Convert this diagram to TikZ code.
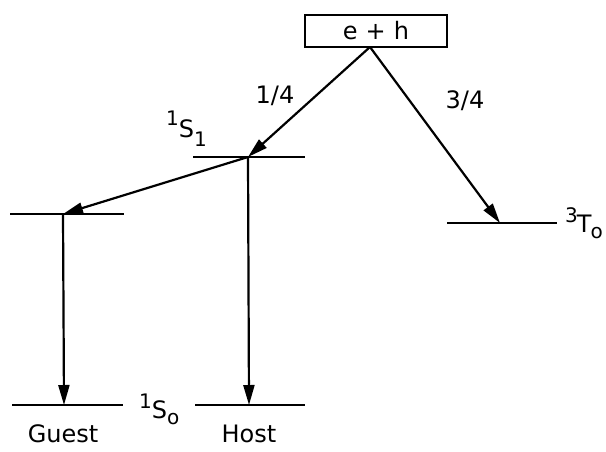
\documentclass[tikz,border=0pt]{standalone}
\usepackage{fontspec}
\setmainfont{DejaVu Sans}
\usetikzlibrary{arrows.meta}
\newcommand{\bigf}{\fontsize{24}{24}\selectfont}
\newcommand{\smf}{\fontsize{20}{20}\selectfont}
\begin{document}
\begin{tikzpicture}[x=1pt,y=-1pt,
  lvl/.style={line width=2.4pt},
  conn/.style={line width=2.2pt,-{Triangle[length=20pt,width=11pt]}},
  lab/.style={font=\bigf, inner sep=0pt},
  every node/.style={inner sep=0pt}]
\useasboundingbox (0,0) rectangle (606,451);
% box
\node[draw, line width=2.4pt, minimum width=142pt, minimum height=32pt, font=\bigf] (eh) at (376,31) {e\,\,+\,\,h};
% levels
\coordinate (s1l) at (193,157); \coordinate (s1r) at (305,157);
\coordinate (s1) at (248,157);
\coordinate (gl) at (10,214); \coordinate (gr) at (124,214);
\coordinate (g) at (63,214);
\coordinate (tl) at (447,223); \coordinate (tr) at (557,223);
\coordinate (t) at (500,223);
\coordinate (g0l) at (12,405); \coordinate (g0r) at (123,405);
\coordinate (g0) at (64,405);
\coordinate (h0l) at (195,405); \coordinate (h0r) at (305,405);
\coordinate (h0) at (249,405);
\coordinate (ebot) at (370,47);
\draw[lvl] (s1l) -- (s1r);
\draw[lvl] (gl) -- (gr);
\draw[lvl] (tl) -- (tr);
\draw[lvl] (g0l) -- (g0r);
\draw[lvl] (h0l) -- (h0r);
% arrows
\draw[conn] (ebot) -- (s1);
\draw[conn] (ebot) -- (t);
\draw[conn] (s1) -- (g);
\draw[conn] (g) -- (g0);
\draw[conn] (s1) -- (h0);
% labels
\node[lab] (q1) at (275,96) {1/4};
\node[lab] (q3) at (465,101) {3/4};
\node[lab, anchor=base west] (S1) at (166,137) {\raisebox{12pt}{\smf 1}S\raisebox{-9pt}{\smf 1}};
\node[lab, anchor=base west] (S0) at (139,418) {\raisebox{10pt}{\smf 1}S\raisebox{-6pt}{\smf o}};
\node[lab, anchor=base west] (T0) at (565,232) {\raisebox{10pt}{\smf 3}\kern-1pt T\kern-1pt\raisebox{-6pt}{\smf o}};
\node[lab] (guest) at (63,434) {Guest};
\node[lab] (host) at (249,434) {Host};
\end{tikzpicture}
\end{document}
